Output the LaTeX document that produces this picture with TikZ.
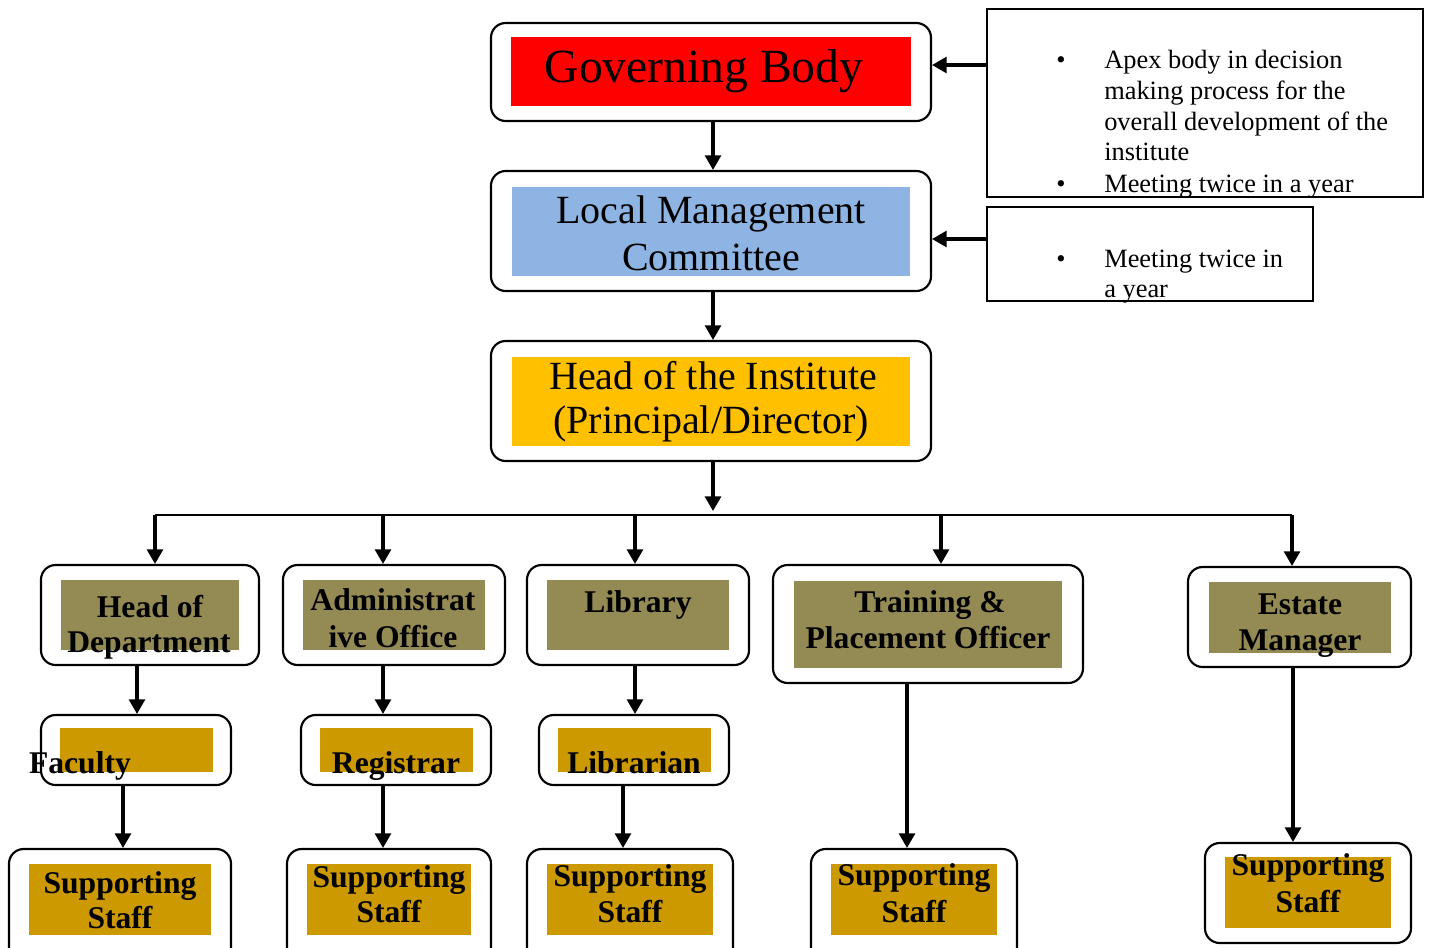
\documentclass[tikz,border=0pt]{standalone}
\usepackage{fontspec}
\setmainfont{Liberation Serif}
\usetikzlibrary{arrows.meta,fit}

\definecolor{gbred}{HTML}{FF0000}
\definecolor{lmcblue}{HTML}{8DB4E2}
\definecolor{headgold}{HTML}{FFC000}
\definecolor{deptolive}{HTML}{948A54}
\definecolor{staffgold}{HTML}{CC9900}

\tikzset{
  outer/.style={draw, line width=1.6pt, rounded corners=11pt, inner sep=0pt},
  band/.style={inner sep=0pt, fill=#1},
  notebox/.style={draw, line width=1.3pt, inner sep=0pt},
  arr/.style={line width=2.3pt, -{Triangle[length=11pt,width=12pt]}},
  bigtxt/.style={anchor=base, inner sep=0pt, font=\fontsize{35.7}{40}\selectfont},
  midtxt/.style={anchor=base, inner sep=0pt, font=\fontsize{30}{35}\selectfont},
  bftxt/.style={anchor=base, inner sep=0pt, font=\fontsize{23.7}{26}\selectfont\bfseries},
  notetxt/.style={anchor=base west, inner sep=0pt, font=\fontsize{19.8}{23}\selectfont},
}

\begin{document}
\begin{tikzpicture}[x=0.75pt, y=-0.75pt]
  \useasboundingbox (0,0) rectangle (1430,947);

  % boxes: name / outer corners / inner corners / colour
  \foreach \n/\a/\b/\c/\d/\col in {
      gb/{491,23}/{931,121}/{511,37}/{911,106}/gbred,
      lmc/{491,171}/{931,291}/{512,187}/{910,276}/lmcblue,
      head/{491,341}/{931,461}/{512,357}/{910,446}/headgold,
      hod/{41,565}/{259,665}/{61,580}/{239,650}/deptolive,
      adm/{283,565}/{505,665}/{303,580}/{485,650}/deptolive,
      lib/{527,565}/{749,665}/{547,580}/{729,650}/deptolive,
      tpo/{773,565}/{1083,683}/{794,581}/{1062,668}/deptolive,
      est/{1188,567}/{1411,667}/{1209,582}/{1391,653}/deptolive,
      fac/{41,715}/{231,785}/{60,728}/{213,772}/staffgold,
      reg/{301,715}/{491,785}/{320,728}/{473,772}/staffgold,
      lbn/{539,715}/{729,785}/{558,728}/{711,772}/staffgold,
      ssa/{9,849}/{231,965}/{29,864}/{211,935}/staffgold,
      ssb/{287,849}/{491,965}/{307,864}/{471,935}/staffgold,
      ssc/{527,849}/{733,965}/{547,864}/{713,935}/staffgold,
      ssd/{811,849}/{1017,965}/{831,864}/{997,935}/staffgold,
      sse/{1205,843}/{1411,943}/{1225,857}/{1391,928}/staffgold}
  {
    \node[outer, fit={(\a) (\b)}] (\n) {};
    \node[band=\col, fit={(\c) (\d)}] (\n-in) {};
  }

  % notes
  \node[notebox, fit={(987,9) (1423,197)}] (noteA) {};
  \node[notebox, fit={(987,207) (1313,301)}] (noteB) {};

  % labels
  \node[bigtxt] (gb-t) at (704,82) {Governing Body};
  \foreach \x/\y/\t [count=\i] in {711/223/Local Management, 711/270/Committee,
      713/389/Head of the Institute, 711/433/{(Principal/Director)}}
    \node[midtxt] (mid\i) at (\x,\y) {\t};
  \foreach \x/\y/\t [count=\i] in {150/617/Head of, 149/652/Department,
      393/610/Administrat, 393/647/ive Office, 638/612/Library,
      930/612/Training \&, 928/648/Placement Officer,
      1300/614/Estate, 1300/650/Manager,
      80/773/Faculty, 396/773/Registrar, 634/773/Librarian,
      120/893/Supporting, 120/928/Staff, 389/887/Supporting, 389/922/Staff,
      630/886/Supporting, 630/922/Staff, 914/885/Supporting, 914/922/Staff,
      1308/875/Supporting, 1308/912/Staff}
    \node[bftxt] (bf\i) at (\x,\y) {\t};
  \foreach \y/\t [count=\i] in {68/Apex body in decision, 99/making process for the,
      130/overall development of the, 160/institute, 192/Meeting twice in a year,
      267/Meeting twice in, 297/a year}
    \node[notetxt] (nt\i) at (1104,\y) {\t};
  \foreach \y [count=\i] in {68,192,267}
    \node[anchor=base, inner sep=0pt, font=\fontsize{19.8}{23}\selectfont] (bul\i) at (1061,\y) {\textbullet};

  % connectors
  \coordinate (top) at (713,0);
  \draw[arr] (gb.south -| top) -- (lmc.north -| top);
  \draw[arr] (lmc.south -| top) -- (head.north -| top);
  \coordinate (hub) at (713,511);
  \draw[arr] (head.south -| hub) -- (hub);
  \coordinate (busL) at (155,515);
  \coordinate (busR) at (1292,515);
  \draw[line width=1.5pt] (busL) -- (busR);
  \foreach \x/\n in {155/hod, 383/adm, 635/lib, 941/tpo, 1292/est}
  {
    \coordinate (b-\n) at (\x,515);
    \draw[arr] (b-\n) -- (b-\n |- \n.north);
  }
  \foreach \x/\a/\b in {137/hod/fac, 383/adm/reg, 635/lib/lbn, 123/fac/ssa,
      383/reg/ssb, 623/lbn/ssc, 907/tpo/ssd, 1293/est/sse}
  {
    \coordinate (v-\b) at (\x,0);
    \draw[arr] (\a.south -| v-\b) -- (\b.north -| v-\b);
  }
  \coordinate (hA) at (0,65);
  \coordinate (hB) at (0,239);
  \draw[arr] (noteA.west |- hA) -- (gb.east |- hA);
  \draw[arr] (noteB.west |- hB) -- (lmc.east |- hB);
\end{tikzpicture}
\end{document}
